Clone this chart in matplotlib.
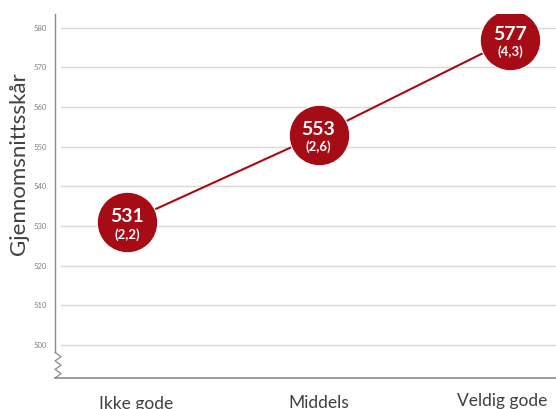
import matplotlib
matplotlib.use("Agg")
import matplotlib.pyplot as plt
import matplotlib.transforms as mtransforms
from matplotlib.lines import Line2D

plt.rcParams["font.family"] = ["Lato", "DejaVu Sans"]

kategorier = ["Ikke gode", "Middels", "Veldig gode"]
snitt = [531, 553, 577]
se = ["2,2", "2,6", "4,3"]
yticks = [500, 510, 520, 530, 540, 550, 560, 570, 580]

RED = "#a50c15"
GRID = "#d9d9d9"
AXIS = "#8c8c8c"

fig = plt.figure(figsize=(5.56, 4.09), dpi=100)
ax = fig.add_axes([0.099, 0.076, 0.901, 0.890])

x = list(range(len(kategorier)))
ax.plot(x, snitt, color=RED, lw=1.5, zorder=2)
ax.scatter(x, snitt, s=1900, color=RED, edgecolors="white", linewidths=0.8,
           zorder=3)
for xi, v, e in zip(x, snitt, se):
    ax.text(xi, v + 1.3, str(v), ha="center", va="center", color="white",
            fontsize=14, fontweight="bold", zorder=4)
    ax.text(xi, v - 3.1, f"({e})", ha="center", va="center", color="white",
            fontsize=9.5, fontweight="bold", zorder=4)

ax.set_xlim(-0.376, 2.24)
ax.set_ylim(491.7, 583.5)
ax.set_yticks(yticks)
ax.set_yticklabels([str(t) for t in yticks], fontsize=5.5, color="#7f7f7f")
for t in yticks:
    ax.axhline(t, xmin=0.012, color=GRID, lw=1, zorder=0)

ax.set_xticks(x)
ax.set_xticklabels(kategorier, fontsize=12.5, color="#404040")
ax.tick_params(axis="both", length=0)
ax.tick_params(axis="x", pad=13)
ax.tick_params(axis="y", pad=6)
# etikettene står litt forskjøvet i originalen
for lab, dx, dy in zip(ax.get_xticklabels(), [9, 0, -8], [0, 1, 3]):
    lab.set_transform(lab.get_transform() +
                      mtransforms.ScaledTranslation(dx / 100, dy / 100,
                                                    fig.dpi_scale_trans))

ax.set_ylabel("Gjennomsnittsskår", fontsize=16, color="#404040")
ax.yaxis.set_label_coords(-0.052, 0.59)

for side in ("top", "right", "left"):
    ax.spines[side].set_visible(False)
ax.spines["bottom"].set_color(AXIS)
ax.spines["bottom"].set_linewidth(1.2)

# venstre akse med brudd (sagtann) nederst
tr = ax.transAxes
brk_top = 0.07
ax.add_line(Line2D([0, 0], [brk_top, 1.0], transform=tr, color=AXIS, lw=1,
                   clip_on=False))
zx = [0, 0.012, 0, 0.012, 0, 0.012, 0]
zy = [brk_top - i * brk_top / 6 for i in range(7)]
ax.add_line(Line2D(zx, zy, transform=tr, color=AXIS, lw=0.9, clip_on=False))

fig.savefig("out.png", dpi=100)
